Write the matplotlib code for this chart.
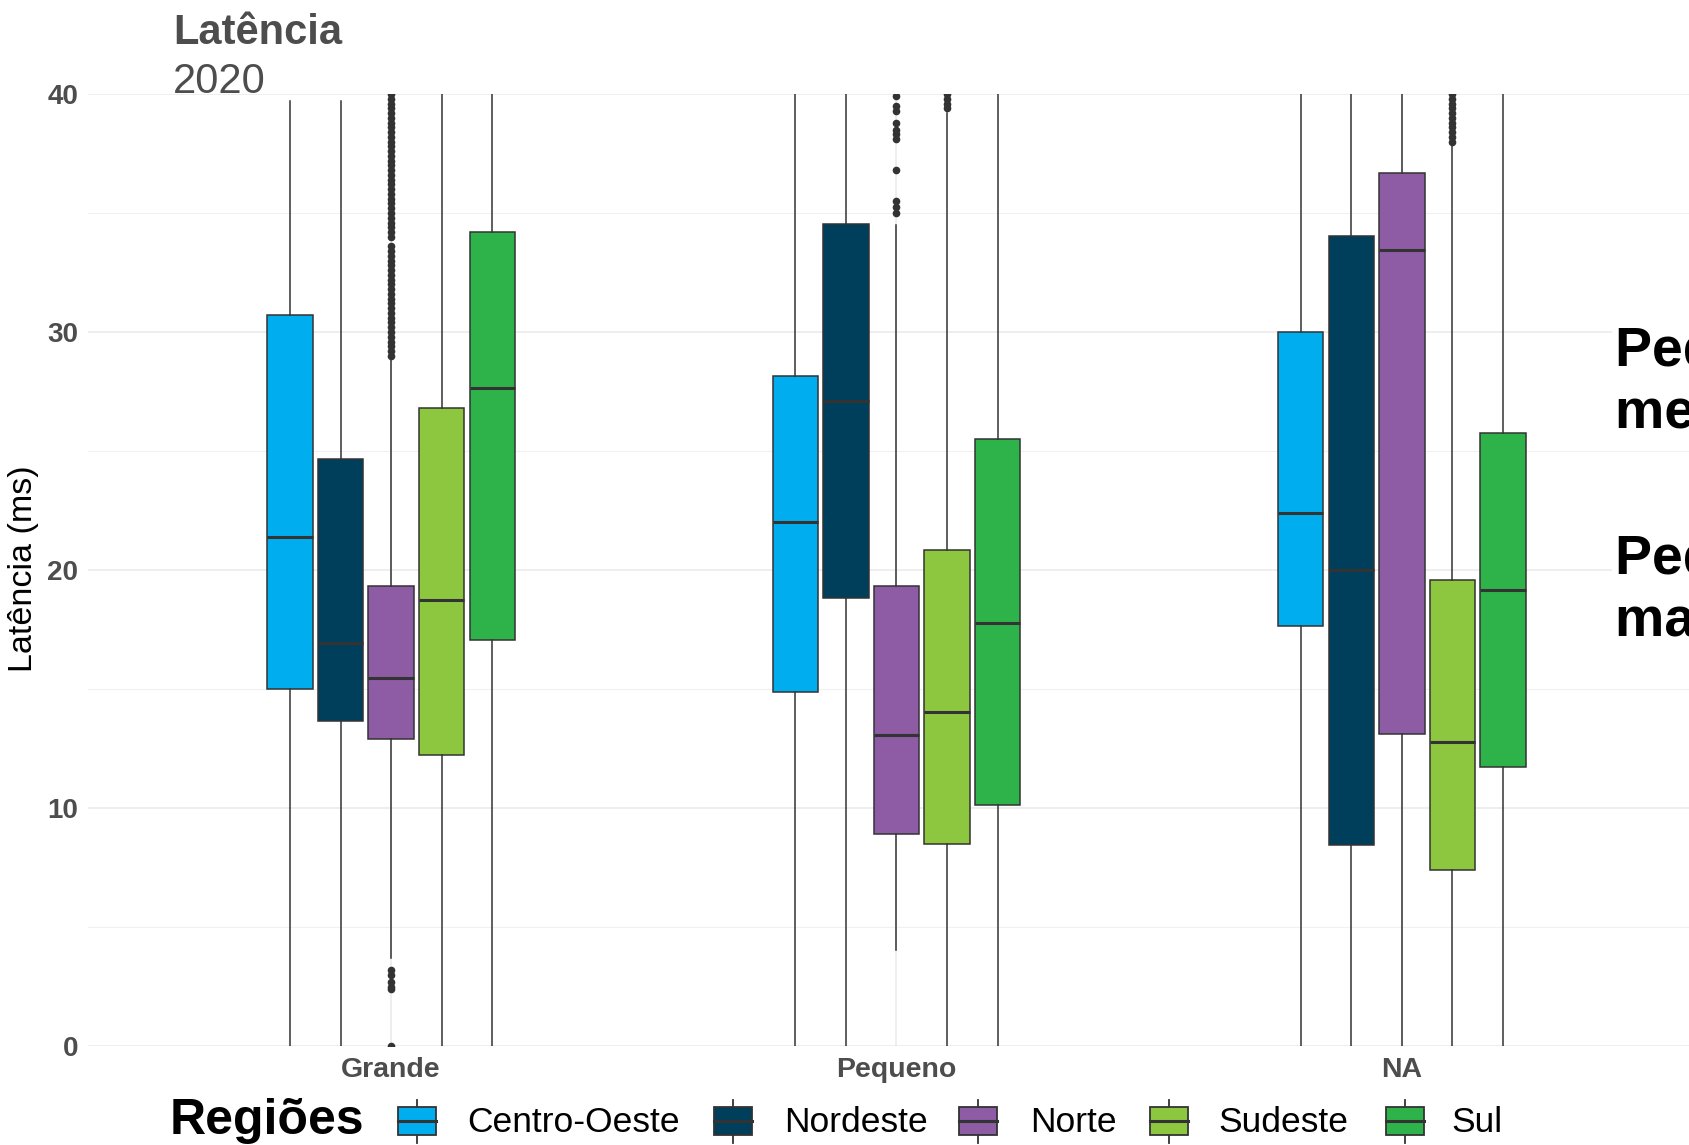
import matplotlib
matplotlib.use('Agg')
import matplotlib.pyplot as plt
from matplotlib.patches import Rectangle

plt.rcParams['font.family'] = ['Liberation Sans', 'DejaVu Sans']

W, H, DPI = 1689, 1145, 100

grupos = ['Grande', 'Pequeno', 'NA']
regioes = ['Centro-Oeste', 'Nordeste', 'Norte', 'Sudeste', 'Sul']
cores = ['#00AEEF', '#003F5C', '#8E5BA5', '#8DC63F', '#2EB34A']

# estatisticas: linhas = grupo, colunas = regiao
q1 = [[14.98, 13.67, 12.90, 12.22, 17.06],
      [14.89, 18.82, 8.91, 8.50, 10.14],
      [17.65, 8.46, 13.12, 7.38, 11.72]]
mediana = [[21.40, 16.92, 15.48, 18.73, 27.65],
           [22.00, 27.10, 13.08, 14.03, 17.78],
           [22.40, 20.00, 33.44, 12.76, 19.14]]
q3 = [[30.72, 24.66, 19.32, 26.79, 34.20],
      [28.14, 34.52, 19.32, 20.86, 25.52],
      [30.00, 34.03, 36.70, 19.59, 25.75]]
whis_lo = [[0.0, 0.0, 3.7, 0.0, 0.0],
           [0.0, 0.0, 4.03, 0.0, 0.0],
           [0.0, 0.0, 0.0, 0.0, 0.0]]
whis_hi = [[39.7, 39.7, 28.95, 41.0, 41.0],
           [41.0, 41.0, 34.5, 39.2, 41.0],
           [41.0, 41.0, 41.0, 37.8, 41.0]]

outliers_grande_norte = [0.0, 2.4, 2.5, 2.7, 3.0, 3.2,
                         29.0, 29.2, 29.4, 29.6, 29.8, 30.0, 30.2, 30.4, 30.6, 30.8,
                         31.0, 31.2, 31.4, 31.6, 31.8, 32.0, 32.2, 32.4, 32.6, 32.8,
                         33.0, 33.2, 33.4, 33.6, 34.0, 34.2, 34.4, 34.6, 34.8,
                         35.0, 35.2, 35.4, 35.6, 35.8, 36.0, 36.2, 36.4, 36.6, 36.8,
                         37.0, 37.2, 37.4, 37.6, 37.8, 38.0, 38.2, 38.4, 38.6, 38.8,
                         39.0, 39.2, 39.4, 39.6, 39.8, 40.0]
outliers_pequeno_norte = [35.0, 35.25, 35.5, 36.8, 38.1, 38.3, 38.5, 38.8, 39.3, 39.5, 39.9]
outliers_pequeno_sudeste = [39.4, 39.6, 39.8, 40.0]
outliers_na_sudeste = [38.0, 38.2, 38.4, 38.6, 38.8, 39.0, 39.2, 39.4, 39.6, 39.8, 40.0]

outliers = {(0, 2): outliers_grande_norte,
            (1, 2): outliers_pequeno_norte,
            (1, 3): outliers_pequeno_sudeste,
            (2, 3): outliers_na_sudeste}

cinza = '#4D4D4D'
linha = '#333333'

fig = plt.figure(figsize=(W / DPI, H / DPI), dpi=DPI)
fig.patch.set_facecolor('white')

# painel: x de 0.4 a 3.6 (discreto), y de 0 a 40 sem expansao
ax = fig.add_axes([88 / W, (H - 1046) / H, (1705 - 88) / W, (1046 - 94) / H])

for g in range(len(grupos)):
    for r in range(len(regioes)):
        st = dict(med=mediana[g][r], q1=q1[g][r], q3=q3[g][r],
                  whislo=whis_lo[g][r], whishi=whis_hi[g][r],
                  fliers=outliers.get((g, r), []))
        ax.bxp([st], positions=[g + 1 + (r - 2) * 0.1], widths=0.09,
               patch_artist=True, showcaps=False, manage_ticks=False,
               boxprops=dict(facecolor=cores[r], edgecolor=linha, lw=1.1),
               medianprops=dict(color=linha, lw=2.2),
               whiskerprops=dict(color=linha, lw=1.1),
               flierprops=dict(marker='o', markerfacecolor=linha,
                               markeredgecolor='none', markersize=5.5))

ax.set_xlim(0.4, 3.6)
ax.set_ylim(0, 40)
for s in ax.spines.values():
    s.set_visible(False)
ax.set_xticks([1, 2, 3])
ax.set_xticklabels(grupos)
ax.set_yticks([0, 10, 20, 30, 40])
ax.set_yticks([5, 15, 25, 35], minor=True)
ax.grid(which='major', color='#EBEBEB', lw=1.2)
ax.grid(which='minor', axis='y', color='#F0F0F0', lw=0.8)
ax.set_axisbelow(True)
ax.tick_params(which='both', length=0)
ax.tick_params(axis='x', pad=8, labelsize=20.5, labelcolor=cinza)
ax.tick_params(axis='y', pad=7, labelsize=20, labelcolor=cinza)
for lab in ax.get_xticklabels() + ax.get_yticklabels():
    lab.set_fontweight('bold')

# titulos
fig.text(173 / W, 1 - 33 / H, 'Latência', fontsize=30, fontweight='bold',
         color=cinza, ha='left', va='center')
fig.text(173 / W, 1 - 82 / H, '2020', fontsize=30, color=cinza,
         ha='left', va='center')
fig.text(24 / W, 1 - 569 / H, 'Latência (ms)', fontsize=24.5, rotation=90,
         ha='center', va='center')

# anotacoes a direita (cortadas pela borda, como no original)
fig.text(1615 / W, 1 - 383 / H, 'Pequeno tem\nmenor latência', fontsize=40,
         fontweight='bold', ha='left', va='center', linespacing=1.26,
         bbox=dict(facecolor='white', edgecolor='none', pad=2))
fig.text(1615 / W, 1 - 591 / H, 'Pequeno tem\nmaior latência', fontsize=40,
         fontweight='bold', ha='left', va='center', linespacing=1.26,
         bbox=dict(facecolor='white', edgecolor='none', pad=2))

# legenda manual
lax = fig.add_axes([0, 0, 1, 1])
lax.set_xlim(0, W)
lax.set_ylim(H, 0)
lax.axis('off')
lax.add_patch(Rectangle((138, 1099), 1349, 46, facecolor='white', edgecolor='none', zorder=0))
lax.text(170, 1121, 'Regiões', fontsize=36, fontweight='bold', ha='left', va='center')
key_x = [417, 733, 978, 1169, 1405]
lab_x = [467, 784, 1030, 1218, 1451]
for r in range(len(regioes)):
    cx = key_x[r]
    lax.plot([cx, cx], [1100, 1143], color=linha, lw=1.3, zorder=1)
    lax.add_patch(Rectangle((cx - 19, 1107), 38, 28, facecolor=cores[r],
                            edgecolor=linha, lw=1.3, zorder=2))
    lax.plot([cx - 19, cx + 19], [1121, 1121], color=linha, lw=2.2, zorder=3)
    lax.text(lab_x[r], 1122, regioes[r], fontsize=25.5, ha='left', va='center')

fig.savefig('out.png', dpi=DPI)
